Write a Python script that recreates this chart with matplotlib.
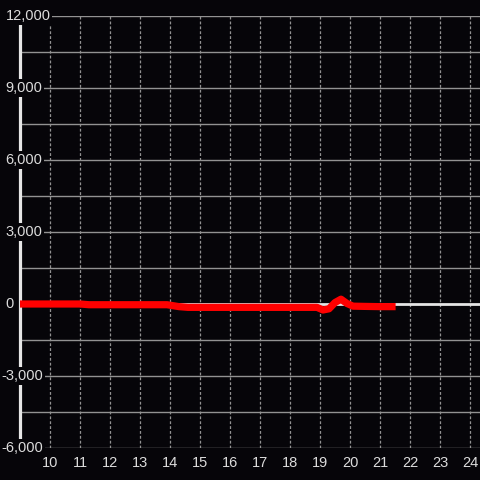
import matplotlib
matplotlib.use("Agg")
import matplotlib.pyplot as plt

# data
x_vals = [9.0, 10.0, 11.0, 11.3, 12.0, 13.0, 13.9, 14.3, 14.6, 15.0, 16.0, 17.0, 18.0,
          18.9, 19.1, 19.3, 19.5, 19.7, 19.9, 20.1, 20.5, 21.0, 21.4]
y_vals = [0, 0, 0, -30, -30, -30, -30, -110, -140, -140, -140, -140, -140,
          -140, -250, -200, 60, 200, 20, -90, -100, -110, -110]
x_ticks = list(range(10, 25))
y_ticks = [-6000, -3000, 0, 3000, 6000, 9000, 12000]
y_tick_labels = ["-6,000", "-3,000", "0", "3,000", "6,000", "9,000", "12,000"]
y_minor = [-4500, -1500, 1500, 4500, 7500, 10500]

BG = "#060509"
TXT = "#dcdcdc"
GRID = "#929292"

fig = plt.figure(figsize=(4.8, 4.8), dpi=100, facecolor=BG)
ax = fig.add_axes([20/480, 32/480, 460/480, 432/480], facecolor=BG)
ax.set_xlim(9, 9 + 460/30)
ax.set_ylim(-6000, 12000)

for s in ["top", "right", "bottom"]:
    ax.spines[s].set_visible(False)
ax.spines["left"].set_color("#e6e6e6")
ax.spines["left"].set_linewidth(2.3)
ax.spines["left"].set_zorder(3)

ax.set_xticks(x_ticks)
ax.set_xticklabels([str(t) for t in x_ticks], color=TXT, fontsize=10.5, family="Liberation Sans")
ax.tick_params(axis="x", length=0, pad=6)
ax.set_yticks([])

# grid
for yv in y_ticks + y_minor:
    if yv == 0:
        continue
    ax.axhline(yv, color=GRID, lw=1.0, zorder=1)
for xv in x_ticks:
    ax.axvline(xv, color=GRID, lw=0.9, ls=(0, (2.3, 1.6)), zorder=1)

ax.axhline(0, color="#e6e6e6", lw=2.0, zorder=2)
ax.plot(x_vals, y_vals, color="#ff0000", lw=5.2, solid_capstyle="projecting",
        solid_joinstyle="round", zorder=4)

for yv, lab in zip(y_ticks, y_tick_labels):
    xpx = 1.5 if lab.startswith("-") else 5.5
    fig.text(xpx/480, (480 - (16 + (12000 - yv)/18000*432))/480, lab,
             ha="left", va="center", color=TXT, fontsize=10.5, family="Liberation Sans",
             bbox=dict(facecolor=BG, edgecolor="none", pad=1.2), zorder=10)

fig.savefig("out.png", dpi=100, facecolor=BG)
